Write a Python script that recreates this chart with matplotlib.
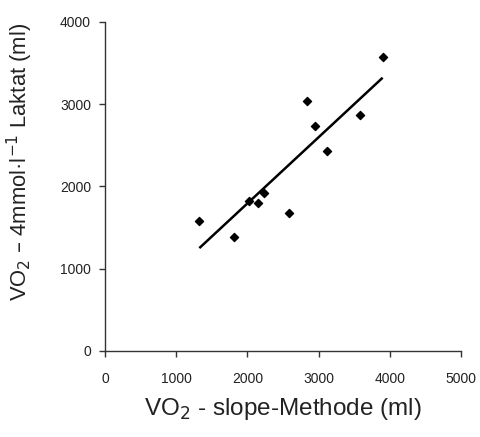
import matplotlib
matplotlib.use("Agg")
import matplotlib.pyplot as plt
import numpy as np

plt.rcParams['font.family'] = ['Liberation Sans', 'DejaVu Sans']

slope_x = [1325, 1812, 2027, 2154, 2233, 2584, 2842, 2954, 3118, 3586, 3900]
laktat_y = [1583, 1389, 1826, 1802, 1924, 1673, 3041, 2734, 2434, 2868, 3576]
trend_x = [1325, 3900]
trend_y = [1250, 3320]
xticks = [0, 1000, 2000, 3000, 4000, 5000]
yticks = [0, 1000, 2000, 3000, 4000]

fig = plt.figure(figsize=(4.81, 4.37), dpi=100)
ax = fig.add_axes([0.2183, 0.1968, 0.7401, 0.7535])

ax.plot(trend_x, trend_y, color='black', linewidth=1.8, solid_capstyle='butt')
ax.scatter(slope_x, laktat_y, marker='D', s=17, color='black', zorder=3)

ax.set_xlim(0, 5000)
ax.set_ylim(0, 4000)
ax.set_xticks(xticks)
ax.set_yticks(yticks)
ax.spines['top'].set_visible(False)
ax.spines['right'].set_visible(False)
for s in ('left', 'bottom'):
    ax.spines[s].set_color('#333333')
    ax.spines[s].set_linewidth(1.0)
ax.tick_params(axis='both', direction='out', length=4, width=1, colors='#333333',
               labelsize=10, labelcolor='#222222')
ax.tick_params(axis='x', pad=11)
ax.tick_params(axis='y', pad=6)

ax.set_xlabel('VO$_2$ - slope-Methode (ml)', fontsize=17.5, labelpad=7, color='#222222')
ax.set_ylabel('VO$_2$ – 4mmol·l$^{-1}$ Laktat (ml)', fontsize=15.8, color='#222222')
ax.yaxis.set_label_coords(-0.198, 0.575)

fig.savefig('out.png', dpi=100)
